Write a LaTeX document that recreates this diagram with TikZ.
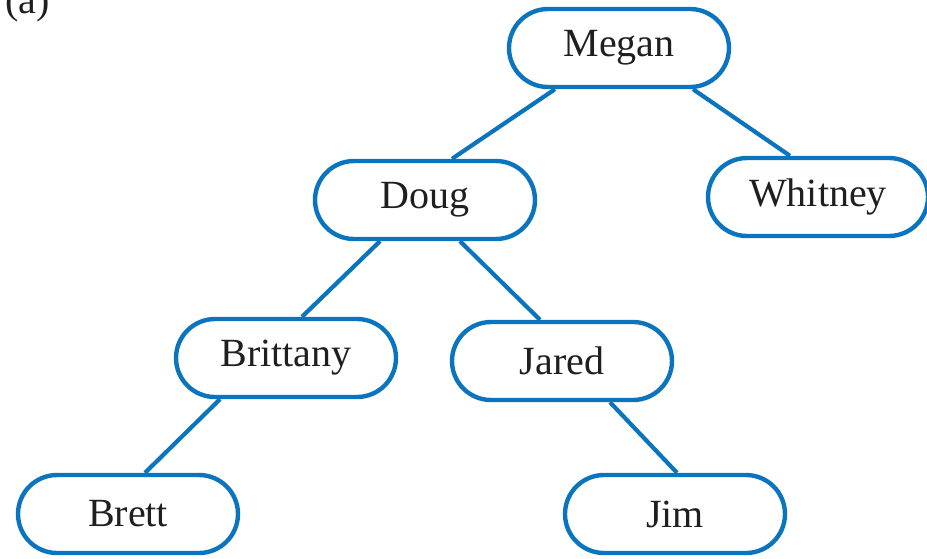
\documentclass[tikz,border=0pt]{standalone}
\usepackage{fontspec}
\setmainfont{Liberation Serif}
\usetikzlibrary{shapes.misc}
\definecolor{treeblue}{RGB}{10,117,190}
\tikzset{
  person/.style={rounded rectangle, draw=treeblue, line width=4.4pt, fill=white,
    minimum width=220pt, minimum height=78pt, inner sep=0pt,
    font=\fontsize{40}{46}\selectfont, text=black!88},
  link/.style={draw=treeblue, line width=4.2pt}
}
\begin{document}
\begin{tikzpicture}[x=1pt,y=1pt]
\useasboundingbox (0,0) rectangle (927,-558);
\node[anchor=base west, font=\fontsize{40}{46}\selectfont, text=black!88, inner sep=0pt] (label) at (5,-13) {(a)};
\node[person] (megan) at (619,-48) {Megan};
\node[person] (doug) at (425,-200) {Doug};
\node[person] (whitney) at (818,-197) {Whitney};
\node[person] (brittany) at (286,-358) {Brittany};
\node[person] (jared) at (562,-361) {Jared};
\node[person] (brett) at (128,-514) {Brett};
\node[person] (jim) at (675,-514) {Jim};
\draw[link] ([xshift=-64pt]megan.south) -- ([xshift=27pt]doug.north);
\draw[link] ([xshift=74pt]megan.south) -- ([xshift=-28pt]whitney.north);
\draw[link] ([xshift=-45pt]doug.south) -- ([xshift=16pt]brittany.north);
\draw[link] ([xshift=35pt]doug.south) -- ([xshift=-22pt]jared.north);
\draw[link] ([xshift=-66pt]brittany.south) -- ([xshift=17pt]brett.north);
\draw[link] ([xshift=48pt]jared.south) -- ([xshift=2pt]jim.north);
\end{tikzpicture}
\end{document}
